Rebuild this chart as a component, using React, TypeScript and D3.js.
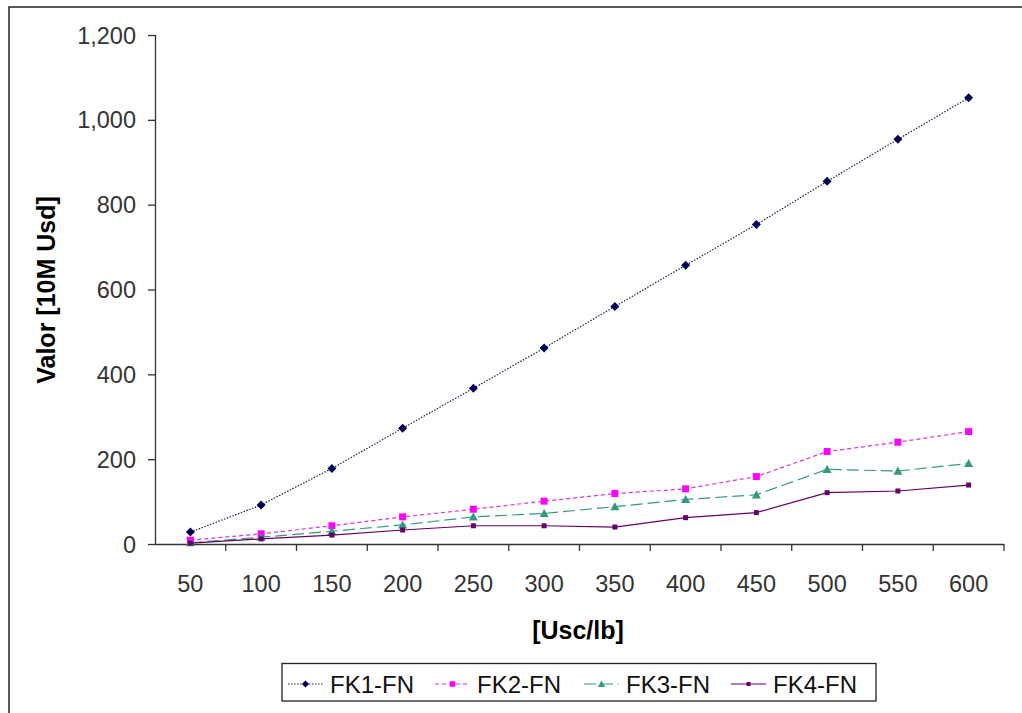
import React from "react";
import * as d3 from "d3";

const categories = ["50", "100", "150", "200", "250", "300", "350", "400", "450", "500", "550", "600"];
const fk1 = [28, 92, 178, 273, 367, 462, 560, 657, 753, 855, 954, 1052];
const fk2 = [9, 24, 43, 64, 82, 101, 119, 130, 159, 218, 240, 265];
const fk3 = [3, 16, 30, 45, 64, 72, 88, 105, 116, 176, 172, 190];
const fk4 = [2, 12, 21, 33, 43, 43, 40, 62, 74, 121, 125, 139];
const yTicks = [0, 200, 400, 600, 800, 1000, 1200];
const seriesNames = ["FK1-FN", "FK2-FN", "FK3-FN", "FK4-FN"];

const W = 1022;
const H = 713;

function marker(kind: string, s: number): string {
  if (kind === "diamond") return `M0,${-s}L${s},0L0,${s}L${-s},0Z`;
  if (kind === "triangle") return `M0,${-s}L${s},${s * 0.8}L${-s},${s * 0.8}Z`;
  return `M${-s},${-s}H${s}V${s}H${-s}Z`;
}

export default function App() {
  const x = d3.scaleBand<string>().domain(categories).range([155, 1004]).padding(0);
  const y = d3.scaleLinear().domain([0, 1200]).range([544, 35]);
  const fmt = d3.format(",");
  const cx = (c: string) => (x(c) as number) + x.bandwidth() / 2;

  const series = [
    { name: seriesNames[0], data: fk1, color: "#000055", line: "#222244", dash: "1.5,1.5", marker: "diamond", size: 4.5 },
    { name: seriesNames[1], data: fk2, color: "#ff00ff", line: "#dd33dd", dash: "4,3", marker: "square", size: 3.5 },
    { name: seriesNames[2], data: fk3, color: "#339980", line: "#339980", dash: "12,5", marker: "triangle", size: 4.5 },
    { name: seriesNames[3], data: fk4, color: "#660066", line: "#660066", dash: "", marker: "square", size: 2.5 },
  ];

  const lineGen = d3
    .line<number>()
    .x((_, i) => cx(categories[i]))
    .y((d) => y(d));

  const font = "Arial, 'Liberation Sans', sans-serif";
  const legendX = [288, 435, 584, 731];

  return (
    <svg width={W} height={H} style={{ position: "absolute", left: 0, top: 0 }} fontFamily={font}>
      <rect x={0} y={0} width={W} height={H} fill="#fff" />
      <rect x={9} y={7} width={W + 10} height={H + 10} fill="#fff" stroke="#222" strokeWidth={1.5} />
      {/* axes */}
      <line x1={155.5} x2={155.5} y1={35} y2={544} stroke="#333" strokeWidth={1.3} />
      <line x1={155} x2={1004} y1={544.5} y2={544.5} stroke="#333" strokeWidth={1.3} />
      {yTicks.map((t) => (
        <g key={t}>
          <line x1={148} x2={155} y1={y(t) + 0.5} y2={y(t) + 0.5} stroke="#333" strokeWidth={1.3} />
          <text x={136} y={y(t) + 8.5} textAnchor="end" fontSize={23.5} fill="#333">
            {fmt(t)}
          </text>
        </g>
      ))}
      {categories.map((c) => (
        <g key={c}>
          <line x1={(x(c) as number) + x.bandwidth()} x2={(x(c) as number) + x.bandwidth()} y1={544} y2={551} stroke="#333" strokeWidth={1.3} />
          <text x={cx(c)} y={592} textAnchor="middle" fontSize={23.5} fill="#333">
            {c}
          </text>
        </g>
      ))}
      <text x={578} y={639} textAnchor="middle" fontSize={25} fontWeight="bold" fill="#000">
        [Usc/lb]
      </text>
      <text transform={`translate(55,${290}) rotate(-90)`} textAnchor="middle" fontSize={25} fontWeight="bold" fill="#000">
        Valor [10M Usd]
      </text>
      {/* series */}
      {series.map((s) => (
        <g key={s.name}>
          <path d={lineGen(s.data) as string} fill="none" stroke={s.line} strokeWidth={1.2} strokeDasharray={s.dash} />
          {s.data.map((v, i) => (
            <path
              key={i}
              d={marker(s.marker, s.size)}
              transform={`translate(${cx(categories[i])},${y(v)})`}
              fill={s.color}
            />
          ))}
        </g>
      ))}
      {/* legend */}
      <rect x={282} y={663.5} width={594} height={37.5} fill="#fff" stroke="#222" strokeWidth={1.3} />
      {series.map((s, i) => (
        <g key={s.name}>
          <line x1={legendX[i]} x2={legendX[i] + 35} y1={684} y2={684} stroke={s.line} strokeWidth={1.2} strokeDasharray={s.dash} />
          <path d={marker(s.marker, s.size * 0.8)} transform={`translate(${legendX[i] + 17.5},684)`} fill={s.color} />
          <text x={legendX[i] + 42} y={693} fontSize={24} fill="#111">
            {s.name}
          </text>
        </g>
      ))}
    </svg>
  );
}
